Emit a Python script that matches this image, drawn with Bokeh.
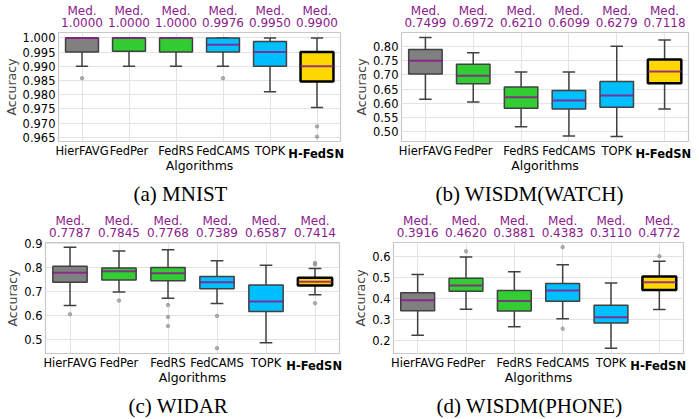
from bokeh.plotting import figure
from bokeh.models import Range1d, FixedTicker, LinearAxis, NumeralTickFormatter, ColumnDataSource, Title
from bokeh.layouts import column, row
from bokeh.embed import file_html
from bokeh.resources import INLINE

ALGORITHMS = ["HierFAVG", "FedPer", "FedRS", "FedCAMS", "TOPK", "H-FedSN"]
BOX_COLORS = ["#808080", "#32CD32", "#32CD32", "#00BFFF", "#00BFFF", "#FFD700"]

# (a) MNIST
mnist_low = [0.990, 0.990, 0.990, 0.990, 0.981, 0.9755]
mnist_q1 = [0.995, 0.9953, 0.995, 0.995, 0.990, 0.9846]
mnist_median = [1.0000, 1.0000, 1.0000, 0.9976, 0.9950, 0.9900]
mnist_q3 = [1.000, 1.000, 1.000, 1.000, 0.9987, 0.9950]
mnist_high = [1.000, 1.000, 1.000, 1.000, 1.000, 1.000]
mnist_outliers = [[0.9858], [], [], [0.9858], [], [0.9688, 0.9652]]
mnist_yticks = [0.965, 0.970, 0.975, 0.980, 0.985, 0.990, 0.995, 1.000]

# (b) WISDM(WATCH)
watch_low = [0.614, 0.605, 0.518, 0.485, 0.483, 0.580]
watch_q1 = [0.703, 0.669, 0.583, 0.580, 0.586, 0.671]
watch_median = [0.7499, 0.6972, 0.6210, 0.6099, 0.6279, 0.7118]
watch_q3 = [0.789, 0.737, 0.657, 0.645, 0.677, 0.754]
watch_high = [0.831, 0.778, 0.710, 0.710, 0.801, 0.823]
watch_outliers = [[], [], [], [], [], []]
watch_yticks = [0.50, 0.55, 0.60, 0.65, 0.70, 0.75, 0.80]

# (c) WIDAR
widar_low = [0.642, 0.698, 0.672, 0.651, 0.488, 0.687]
widar_q1 = [0.739, 0.748, 0.745, 0.712, 0.617, 0.725]
widar_median = [0.7787, 0.7845, 0.7768, 0.7389, 0.6587, 0.7414]
widar_q3 = [0.805, 0.798, 0.800, 0.763, 0.728, 0.758]
widar_high = [0.884, 0.869, 0.874, 0.828, 0.809, 0.796]
widar_outliers = [[0.606], [0.663], [0.644, 0.595, 0.557], [0.599, 0.465], [], [0.819, 0.813, 0.652]]
widar_yticks = [0.5, 0.6, 0.7, 0.8, 0.9]

# (d) WISDM(PHONE)
phone_low = [0.225, 0.349, 0.265, 0.304, 0.163, 0.348]
phone_q1 = [0.342, 0.434, 0.340, 0.387, 0.283, 0.440]
phone_median = [0.3916, 0.4620, 0.3881, 0.4383, 0.3110, 0.4772]
phone_q3 = [0.427, 0.497, 0.438, 0.472, 0.368, 0.505]
phone_high = [0.514, 0.598, 0.527, 0.561, 0.474, 0.578]
phone_outliers = [[], [0.625], [], [0.645, 0.256], [], [0.602]]
phone_yticks = [0.2, 0.3, 0.4, 0.5, 0.6]

PURPLE = "#8b1a8b"
SANS = "DejaVu Sans"
TICK_FS = "11.5px"
MED_FS = "12px"
LABEL_FS = "12.5px"
BOLD_HALF_W = 27


def bare_axis(ax, color="black", fs=TICK_FS):
    ax.axis_line_color = None
    ax.major_tick_line_color = None
    ax.minor_tick_line_color = None
    ax.major_tick_out = 0
    ax.major_tick_in = 0
    ax.minor_tick_out = 0
    ax.minor_tick_in = 0
    ax.major_label_text_font = SANS
    ax.major_label_text_font_size = fs
    ax.major_label_text_color = color


def make_panel(caption, low, q1, med, q3, high, outliers, yticks, yfmt, yrange,
               width, height, left, right, top, bottom, cap_offset):
    p = figure(width=width, height=height, x_range=Range1d(-0.5, 5.5), y_range=Range1d(*yrange),
               output_backend="svg", toolbar_location=None, title_location=None,
               min_border_left=left, min_border_right=right, min_border_top=top,
               min_border_bottom=bottom, x_axis_location=None)
    p.background_fill_color = "white"
    p.border_fill_color = "white"
    p.outline_line_color = "#c8c8c8"
    p.outline_line_width = 1.2

    xs = list(range(len(ALGORITHMS)))
    src = ColumnDataSource(dict(
        x=xs, low=low, q1=q1, med=med, q3=q3, high=high, color=BOX_COLORS,
        lw=[1.5, 1.5, 1.5, 1.5, 1.5, 2.5],
        lc=["#404040", "#404040", "#404040", "#404040", "#404040", "#000000"],
        cx0=[x - 0.13 for x in xs], cx1=[x + 0.13 for x in xs],
        mx0=[x - 0.35 for x in xs], mx1=[x + 0.35 for x in xs],
    ))
    # whiskers and caps
    p.segment(x0="x", x1="x", y0="q3", y1="high", source=src, line_color="#404040", line_width=1.5)
    p.segment(x0="x", x1="x", y0="q1", y1="low", source=src, line_color="#404040", line_width=1.5)
    p.segment(x0="cx0", x1="cx1", y0="high", y1="high", source=src, line_color="#404040", line_width=1.5)
    p.segment(x0="cx0", x1="cx1", y0="low", y1="low", source=src, line_color="#404040", line_width=1.5)
    # boxes
    p.vbar(x="x", bottom="q1", top="q3", width=0.7, source=src, fill_color="color",
           line_color="lc", line_width="lw")
    # medians
    p.segment(x0="mx0", x1="mx1", y0="med", y1="med", source=src, line_color=PURPLE,
              line_width=2, line_alpha=0.85)
    # outliers
    ox, oy = [], []
    for i, vals in enumerate(outliers):
        for v in vals:
            ox.append(i)
            oy.append(v)
    p.scatter(ox, oy, size=3.5, fill_color="#909090", line_color="#909090", alpha=0.7)

    # x axis: normal labels
    ax_x = LinearAxis(ticker=FixedTicker(ticks=xs),
                      major_label_overrides={i: (ALGORITHMS[i] if i != 5 else "") for i in xs})
    bare_axis(ax_x)
    ax_x.major_label_standoff = 2
    p.add_layout(ax_x, "below")

    # bold label of the proposed method, pulled up into the tick-label row
    frame_w = width - left - right
    p.add_layout(Title(text=ALGORITHMS[5], align="right", vertical_align="top",
                       offset=frame_w / 12 - BOLD_HALF_W, standoff=-28,
                       text_font=SANS, text_font_size=TICK_FS, text_font_style="bold",
                       text_color="black"), "below")
    p.add_layout(Title(text="Algorithms", align="center", vertical_align="bottom", standoff=-24,
                       text_font=SANS, text_font_size=LABEL_FS, text_font_style="normal",
                       text_color="black"), "below")
    p.add_layout(Title(text=caption, align="left", vertical_align="bottom", offset=cap_offset,
                       standoff=-91, text_font="Liberation Serif", text_font_size="21px",
                       text_font_style="normal", text_color="black"), "below")

    ya = p.yaxis[0]
    ya.ticker = FixedTicker(ticks=yticks)
    ya.formatter = NumeralTickFormatter(format=yfmt)
    bare_axis(ya)
    ya.major_label_standoff = 3
    ya.axis_label = "Accuracy"
    ya.axis_label_text_font = SANS
    ya.axis_label_text_font_size = LABEL_FS
    ya.axis_label_text_font_style = "normal"
    ya.axis_label_standoff = 1

    # median annotations above the frame
    ax_med = LinearAxis(ticker=FixedTicker(ticks=xs),
                        major_label_overrides={i: f"Med.\n{m:.4f}" for i, m in enumerate(med)})
    bare_axis(ax_med, PURPLE, MED_FS)
    ax_med.major_label_text_line_height = 0.85
    ax_med.major_label_standoff = 3
    p.add_layout(ax_med, "above")

    p.xgrid.ticker = FixedTicker(ticks=xs)
    p.ygrid.ticker = FixedTicker(ticks=yticks)
    for g in (p.xgrid[0], p.ygrid[0]):
        g.grid_line_color = "#e3e3e3"
        g.grid_line_width = 1
    return p


pa = make_panel("(a) MNIST", mnist_low, mnist_q1, mnist_median, mnist_q3, mnist_high, mnist_outliers,
                mnist_yticks, "0.000", (0.9635, 1.0019), 350, 210, 58, 10, 32, 69, 75)
pb = make_panel("(b) WISDM(WATCH)", watch_low, watch_q1, watch_median, watch_q3, watch_high,
                watch_outliers, watch_yticks, "0.00", (0.4658, 0.849), 349, 210, 46, 11, 29, 69, 34)
pc = make_panel("(c) WIDAR", widar_low, widar_q1, widar_median, widar_q3, widar_high, widar_outliers,
                widar_yticks, "0.0", (0.443, 0.904), 350, 209, 45, 11, 30, 66, 83)
pd_ = make_panel("(d) WISDM(PHONE)", phone_low, phone_q1, phone_median, phone_q3, phone_high,
                 phone_outliers, phone_yticks, "0.0", (0.1378, 0.667), 349, 209, 39, 16, 30, 66, 43)

layout = column(row(pa, pb, spacing=0), row(pc, pd_, spacing=0), spacing=0)
open("out.html", "w").write(file_html(layout, INLINE))
